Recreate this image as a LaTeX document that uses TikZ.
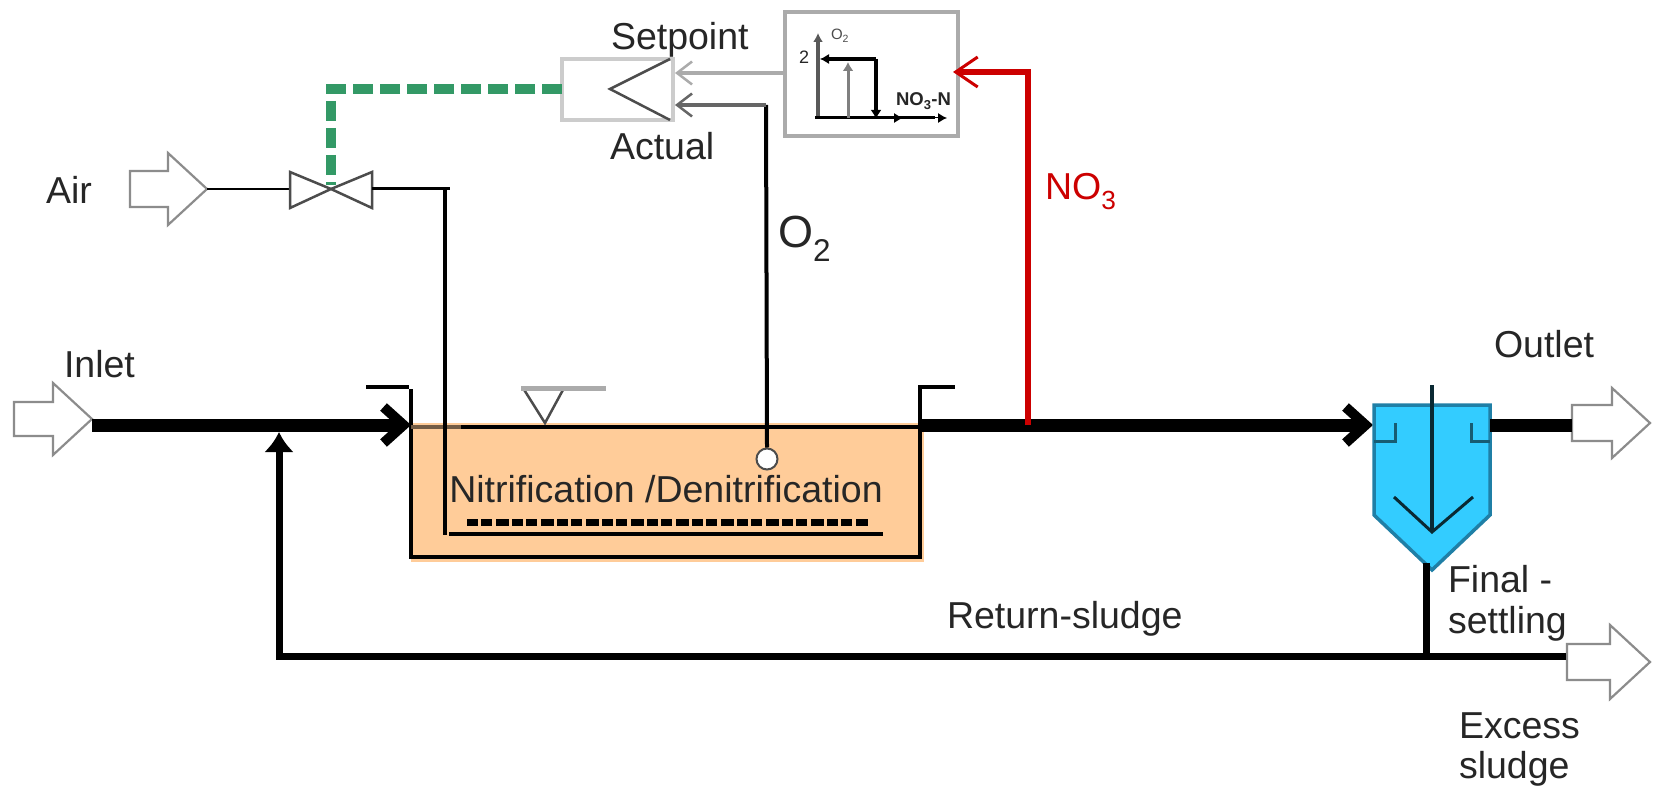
\documentclass[tikz,border=0pt]{standalone}
\usepackage{fontspec}
\setmainfont{Liberation Sans}
\usetikzlibrary{arrows.meta,calc}
\definecolor{tankfill}{HTML}{FFCC99}
\definecolor{settlefill}{HTML}{33CCFF}
\definecolor{settleedge}{HTML}{1F7FA6}
\definecolor{ctrlgreen}{HTML}{339966}
\definecolor{nored}{HTML}{CC0000}
\definecolor{framegray}{HTML}{ABABAB}
\tikzset{
  lbl/.style={anchor=base west,inner sep=0pt,outer sep=0pt,font=\fontsize{37.5}{37.5}\selectfont,text=black!85},
  pipe/.style={line width=13pt,black},
  midpipe/.style={line width=7pt,black},
  hollow/.style={draw=black!45,line width=2.2pt,fill=white,line join=miter},
  frame/.style={draw=framegray,line width=4pt},
  bigbarb/.style={-{Straight Barb[length=20pt,width=36pt,line width=10pt]}},
  smallbarb/.style={-{Straight Barb[length=15pt,width=23pt,line width=2.5pt]}},
  plottip/.style={-{Latex[length=9pt,width=10pt]}},
}
\newcommand{\flowarrow}[7]{% name, left, neck, tip, ymid, half body, half head
  \draw[hollow] (#2,#5-#6) -- (#3,#5-#6) -- (#3,#5-#7) -- (#4,#5) -- (#3,#5+#7) -- (#3,#5+#6) -- (#2,#5+#6) -- cycle;
  \coordinate (#1) at (#4,#5);
  \coordinate (#1L) at (#2,#5);
}
\begin{document}
\begin{tikzpicture}[x=1pt,y=-1pt]
\useasboundingbox (0,0) rectangle (1654,786);
\fill[white] (0,0) rectangle (1654,786);

% tank
\fill[tankfill] (411,423) rectangle (924,562);
\draw[line width=3.5pt] (366,387) -- (409,387);
\draw[line width=3.5pt] (411,389) -- (411,557) -- (920,557) -- (920,387) -- (955,387);
\draw[line width=4pt] (461,426.5) -- (920,426.5);
\draw[line width=4pt,black!55!tankfill] (411,426.5) -- (461,426.5);
% water level
\draw[line width=2.5pt,black!70] (523,388) -- (545,423) -- (564,388);
\draw[line width=5pt,framegray] (521,388) -- (606,388);
% aeration
\draw[line width=7pt,dash pattern=on 11pt off 3pt on 11pt off 4pt on 13pt off 3pt] (467,522) -- (868,522);
\draw[line width=4pt] (449,534) -- (883,534);
\node[lbl,anchor=base] (proc) at (666,502) {Nitrification /Denitrification};

% controller
\draw[frame,draw=black!20] (673,59) -- (562,59) -- (562,120) -- (673,120) -- cycle;
\draw[line width=2.5pt,black!70] (670,59) -- (610,89) -- (670,120);
\node[lbl,anchor=base west] (sp) at (611,50) {Setpoint};
\node[lbl] (ac) at (610,160) {Actual};

% plot box
\draw[frame] (785,12) rectangle (958,136);
\coordinate (plotL) at (785,73);
\coordinate (plotR) at (953,72);
\coordinate (ctrlS) at (675,73);
\coordinate (ctrlA) at (675,105);
\coordinate (ctrlL) at (562,89);
\draw[line width=4pt,framegray,smallbarb] (plotL) -- (ctrlS);
\draw[line width=4pt,black!65,plottip] (818,118) -- (818,33);
\draw[line width=3pt] (815,118) -- (935,118);
\draw[line width=1pt,plottip] (930,118) -- (947,118);
\draw[line width=1pt,plottip] (885,118) -- (903,118);
\draw[line width=3.5pt] (876,59) -- (825,59);
\draw[line width=1pt,plottip] (835,59) -- (820,59);
\draw[line width=3.5pt,-{Latex[length=9pt,width=11pt]}] (876,59) -- (876,119);
\draw[line width=3pt,black!50,-{Latex[length=9pt,width=11pt]}] (848,118) -- (848,62);
\node[lbl,font=\fontsize{18}{18}\selectfont] (two) at (799,64) {2};
\node[lbl,font=\fontsize{15}{15}\selectfont,text=black!70] (plotO) at (831,40) {O\textsubscript{2}};
\node[lbl,font=\bfseries\fontsize{18.5}{18.5}\selectfont] (plotN) at (896,106) {NO\textsubscript{3}-N};

% air line
\flowarrow{airA}{130}{168}{207}{189}{18}{36}
\coordinate (vL) at (290,189);
\coordinate (vR) at (372,189);
\coordinate (vC) at (331,189);
\draw[line width=2.8pt] (airA) -- (vL);
\draw[line width=2.5pt,black!70,line join=miter] (331,189) -- (290,172) -- (290,208) -- cycle;
\draw[line width=2.5pt,black!70,line join=miter] (331,189) -- (372,172) -- (372,208) -- cycle;
\coordinate (drop) at (445,535);
\draw[line width=3pt] (vR) -- (450,189);
\draw[line width=4pt] (445,189) -- (drop);
\node[lbl] (air) at (46,204) {Air};

% control signal
\coordinate (gcorner) at (331,89);
\draw[line width=10pt,ctrlgreen,dash pattern=on 20pt off 7pt] (ctrlL) -- (gcorner) -- (331,185);

% O2 line
\node[circle,draw=black!70,fill=white,line width=2pt,minimum size=21pt,inner sep=0pt] (sensor) at (767,459) {};
\coordinate (o2top) at (766,105);
\draw[line width=4pt] (sensor.north) -- (o2top);
\draw[line width=3.5pt,black!60,smallbarb] (o2top) -- (ctrlA);
\node[lbl,font=\fontsize{45}{45}\selectfont] (o2) at (778,248) {O\textsubscript{2}};

% main flows
\flowarrow{inA}{14}{53}{92}{419}{17}{36}
\coordinate (tankIn) at (411,425);
\draw[pipe,bigbarb] (inA |- tankIn) -- (tankIn);
\coordinate (tankOut) at (920,425);
\coordinate (setIn) at (1373,425);
\draw[pipe,bigbarb] (tankOut) -- (setIn);

% nitrate feedback
\coordinate (noTap) at (1028,425);
\draw[line width=6pt,nored,-{Straight Barb[length=22pt,width=30pt,line width=3pt]},line join=miter] (noTap) -- (1028,72) -- (plotR);
\node[lbl,text=nored] (no3) at (1045,200) {NO\textsubscript{3}};

% settler
\draw[fill=settlefill,draw=settleedge,line width=3.5pt,line join=miter] (1374,405) -- (1490,405) -- (1490,515) -- (1432,570) -- (1374,515) -- cycle;
\draw[line width=3pt,black!55!settlefill] (1374,441) -- (1395,441) -- (1395,423);
\draw[line width=3pt,black!55!settlefill] (1490,441) -- (1471,441) -- (1471,423);
\draw[line width=3pt,black!80!settlefill] (1394,497) -- (1432,532) -- (1473,497);
\draw[line width=3.5pt,black!80!settlefill] (1432,385) -- (1432,532);
\coordinate (setOut) at (1490,425);
\flowarrow{outA}{1572}{1612}{1650}{423}{18}{35}
\draw[pipe] (setOut) -- (outAL |- setOut);

% return sludge
\flowarrow{exA}{1567}{1610}{1650}{662}{18}{37}
\coordinate (setB) at (1426,563);
\coordinate (retJ) at (1426,656);
\coordinate (retEnd) at (1566,656);
\coordinate (retC) at (279,656);
\coordinate (inJ) at (279,432);
\draw[midpipe] (setB) -- (retJ);
\draw[midpipe,line join=miter,-{Latex[length=20pt,width=30pt]}] (retEnd) -- (retC) -- (inJ);

% labels
\node[lbl] (inlet) at (64,377) {Inlet};
\node[lbl] (outlet) at (1494,357) {Outlet};
\node[lbl] (ret) at (947,628) {Return-sludge};
\node[lbl] (fin) at (1448,592) {Final -};
\node[lbl] (set) at (1448,633) {settling};
\node[lbl] (exc) at (1459,738) {Excess};
\node[lbl] (slu) at (1459,778) {sludge};
\end{tikzpicture}
\end{document}
